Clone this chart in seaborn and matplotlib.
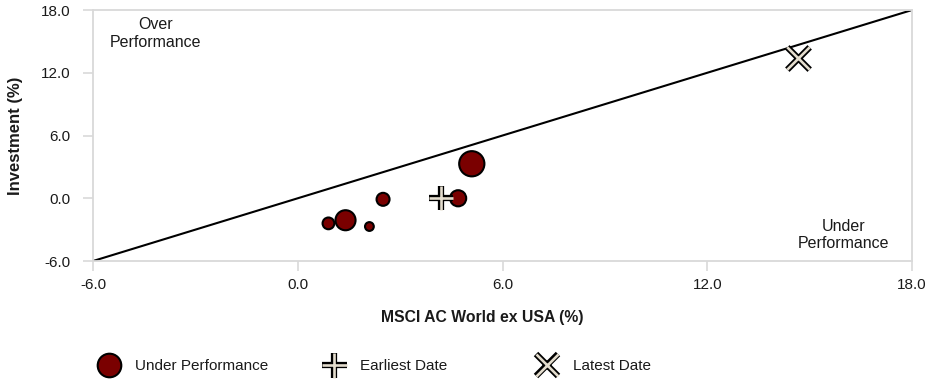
import matplotlib
matplotlib.use("Agg")
import matplotlib.pyplot as plt
from matplotlib.lines import Line2D
import seaborn as sns
import pandas as pd

sns.set_theme(style="white")
plt.rcParams["font.family"] = ["Liberation Sans", "DejaVu Sans"]

# Under-performance observations (benchmark %, investment %, weight)
bench = [0.9, 1.4, 2.1, 2.5, 4.7, 5.1]
invest = [-2.4, -2.1, -2.7, -0.1, 0.0, 3.3]
weight = [1.4, 4.0, 0.8, 1.7, 2.6, 6.3]

earliest_x, earliest_y = [4.2], [0.0]
latest_x, latest_y = [14.65], [13.4]

diag = [-6.0, 18.0]
ticks = [-6.0, 0.0, 6.0, 12.0, 18.0]
legend_labels = ["Under Performance", "Earliest Date", "Latest Date"]

df = pd.DataFrame({"bench": bench, "invest": invest, "weight": weight})

RED = "#7a0000"
BEIGE = "#e3dccd"
TXT = "#1a1a1a"

fig = plt.figure(figsize=(9.25, 3.85), dpi=100)
ax = fig.add_axes([0.1005, 0.322, 0.8855, 0.652])

# 45-degree line
sns.lineplot(x=diag, y=diag, color="black", linewidth=1.5, ax=ax, zorder=2)

sns.scatterplot(
    data=df, x="bench", y="invest", size="weight", sizes=(40, 330),
    color=RED, edgecolor="black", linewidth=1.5, legend=False, ax=ax, zorder=3,
)

# outlined plus / cross: thick black under thin beige
for mk, xs, ys, s in [("+", earliest_x, earliest_y, 320), ("x", latest_x, latest_y, 260)]:
    ax.scatter(xs, ys, marker=mk, s=s, color="black", linewidth=4.5, zorder=4)
    ax.scatter(xs, ys, marker=mk, s=s, color=BEIGE, linewidth=1.9, zorder=5)

ax.set_xlim(-6, 18)
ax.set_ylim(-6, 18)
ax.set_xticks(ticks)
ax.set_yticks(ticks)
ax.set_xticklabels([f"{t:.1f}" for t in ticks], fontsize=11, color=TXT)
ax.set_yticklabels([f"{t:.1f}" for t in ticks], fontsize=11, color=TXT)
ax.tick_params(axis="both", length=7, width=1.2, color="#d9d9d9",
               direction="out", bottom=True, left=True)
ax.tick_params(axis="x", pad=5)
ax.tick_params(axis="y", pad=9)
for sp in ax.spines.values():
    sp.set_color("#d9d9d9")
    sp.set_linewidth(1.3)

ax.set_xlabel("MSCI AC World ex USA (%)", fontsize=11.3, fontweight="bold", color=TXT)
ax.set_ylabel("Investment (%)", fontsize=12, fontweight="bold", color=TXT)
ax.xaxis.set_label_coords(0.475, -0.195)
ax.yaxis.set_label_coords(-0.085, 0.5)

ax.text(-4.18, 17.3, "Over\nPerformance", ha="center", va="top",
        fontsize=11.5, color=TXT, linespacing=1.2)
ax.text(16.0, -5.05, "Under\nPerformance", ha="center", va="bottom",
        fontsize=11.5, color=TXT, linespacing=1.2)

handles = [
    Line2D([], [], marker="o", linestyle="", markersize=17,
           markerfacecolor=RED, markeredgecolor="black", markeredgewidth=1.5),
    (Line2D([], [], marker="+", linestyle="", markersize=18, color="black",
            markeredgewidth=4.5),
     Line2D([], [], marker="+", linestyle="", markersize=18, color=BEIGE,
            markeredgewidth=1.9)),
    (Line2D([], [], marker="x", linestyle="", markersize=16, color="black",
            markeredgewidth=4.5),
     Line2D([], [], marker="x", linestyle="", markersize=16, color=BEIGE,
            markeredgewidth=1.9)),
]
anchors = [96.8 / 925, 321.8 / 925, 534.8 / 925]
for h, lab, xa in zip(handles, legend_labels, anchors):
    fig.legend([h], [lab], loc="center left", bbox_to_anchor=(xa, 1 - 366 / 385),
               frameon=False, fontsize=11, handlelength=1.6, handletextpad=0.9,
               borderpad=0, borderaxespad=0, labelcolor=TXT)

fig.savefig("out.png", dpi=100)
